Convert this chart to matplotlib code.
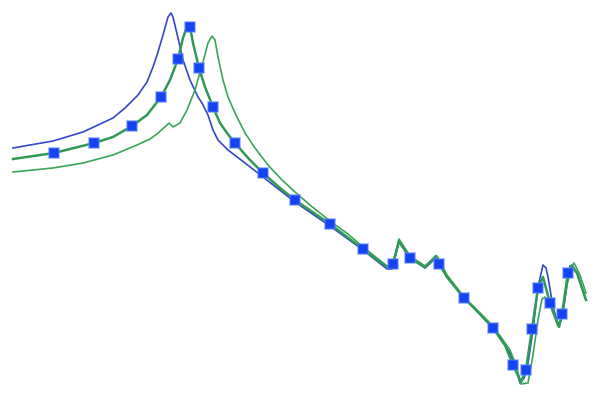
import matplotlib
matplotlib.use("Agg")
import matplotlib.pyplot as plt

# values (x along the sweep, y as level, larger = lower)
blue_x = [13, 53, 83, 113, 125, 138, 147, 153, 158, 163, 168, 171, 173, 178, 183, 190,
          198, 202, 208, 213, 218, 228, 245, 263, 295, 330, 363, 387, 392, 399, 410,
          425, 437, 447, 464, 478, 493, 510, 516, 520, 524, 527, 533, 538, 543, 546,
          548, 553, 559, 563, 568, 570, 572, 577, 586]
blue_y = [148, 141, 132, 118, 108, 95, 82, 67, 52, 35, 17, 13, 17, 38, 60, 80,
          97, 103, 115, 130, 140, 150, 163, 177, 202, 226, 250, 269, 269, 242, 258,
          268, 257, 277, 298, 312, 328, 353, 368, 383, 378, 370, 330, 287, 265, 268,
          277, 307, 327, 313, 277, 266, 265, 273, 300]

mid_x = [13, 54, 94, 113, 132, 147, 161, 170, 178, 183, 188, 190, 193, 199, 205,
         213, 220, 227, 235, 249, 263, 280, 295, 330, 363, 387, 393, 399, 410, 425,
         436, 439, 447, 464, 478, 493, 505, 513, 521, 526, 532, 538, 543, 550, 559,
         562, 568, 571, 577, 586]
mid_y = [159, 153, 143, 137, 126, 115, 97, 80, 59, 38, 24, 27, 43, 68, 87,
         107, 123, 133, 143, 159, 173, 188, 200, 224, 249, 267, 264, 241, 258, 267,
         256, 264, 277, 298, 312, 328, 345, 365, 382, 370, 329, 288, 277, 303, 327,
         314, 273, 266, 273, 300]

mark_x = [54, 94, 132, 161, 178, 190, 199, 213, 235, 263, 295, 330, 363, 393, 410,
          439, 464, 493, 513, 526, 532, 538, 550, 562, 568]
mark_y = [153, 143, 126, 97, 59, 27, 68, 107, 143, 173, 200, 224, 249, 264, 258,
          264, 298, 328, 365, 370, 329, 288, 303, 314, 273]

green_x = [13, 53, 83, 113, 137, 150, 157, 167, 169, 173, 180, 187, 195, 203, 208,
           212, 215, 218, 223, 228, 235, 245, 255, 268, 282, 295, 310, 330, 348, 363,
           387, 392, 399, 410, 425, 437, 447, 464, 478, 493, 510, 516, 521, 528, 533,
           538, 542, 545, 550, 558, 562, 567, 572, 574, 580, 586]
green_y = [172, 168, 163, 155, 145, 139, 134, 125, 123, 127, 123, 110, 90, 62, 43,
           36, 40, 57, 80, 97, 113, 133, 148, 165, 180, 192, 205, 221, 234, 247,
           266, 267, 239, 256, 266, 256, 275, 297, 311, 326, 350, 365, 384, 383, 355,
           320, 299, 297, 305, 326, 318, 285, 266, 263, 275, 293]

fig = plt.figure(figsize=(6, 4), dpi=100)
ax = fig.add_axes([0, 0, 1, 1])

ax.plot(blue_x, blue_y, color="#3448c8", lw=1.2, zorder=2)
ax.plot(green_x, green_y, color="#3ca55a", lw=1.2, zorder=2)
ax.plot(mid_x, mid_y, color="#2e9a56", lw=1.8, zorder=3)
ax.plot(mark_x, mark_y, ls="none", marker="s", markersize=6.5,
        markerfacecolor="#1443f2", markeredgecolor=(0.35, 0.5, 1.0, 0.6),
        markeredgewidth=1.2, zorder=4)

ax.set_xlim(0, 600)
ax.set_ylim(400, 0)
ax.axis("off")

fig.savefig("out.png", dpi=100)
